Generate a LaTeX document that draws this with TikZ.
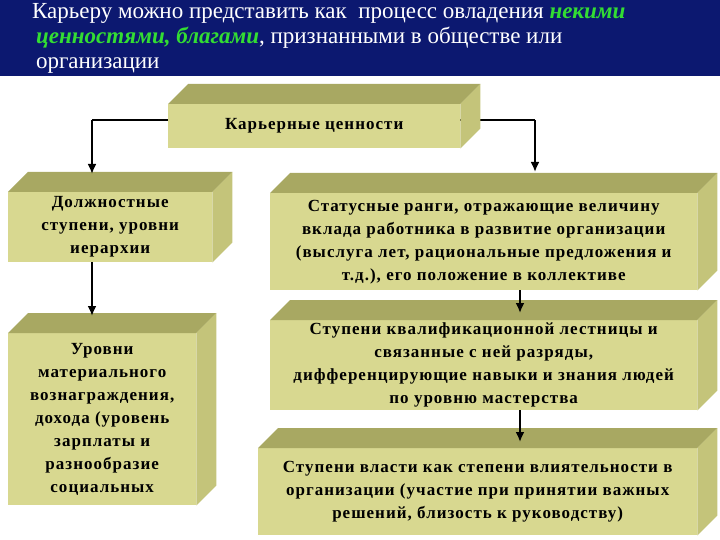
\documentclass[tikz,border=0pt]{standalone}
\usepackage{fontspec}
\setmainfont{Liberation Serif}
\definecolor{navy}{HTML}{0C1870}
\definecolor{kfront}{HTML}{D8D890}
\definecolor{ktop}{HTML}{A8A862}
\definecolor{kside}{HTML}{C4C47A}
\definecolor{kgreen}{HTML}{33DD33}
\tikzset{
  front/.style={fill=kfront, anchor=north west, inner sep=2pt, align=center, font=\bfseries\fontsize{17}{23}\selectfont\addfontfeature{LetterSpace=6}, text=black},
  conn/.style={line width=2.4pt, -{Latex[length=10pt,width=9pt]}},
  line/.style={line width=2.4pt}
}
\usetikzlibrary{arrows.meta}
\newcommand\kbox[7]{% name, x, y, w, h, depth, text
  \node[front, minimum width=#4pt, minimum height=#5pt] (#1) at (#2,#3) {#7};
  \fill[ktop] (#1.north west) -- ++(#6,-#6) -- ([xshift=#6pt,yshift=#6pt]#1.north east) -- (#1.north east) -- cycle;
  \fill[kside] (#1.north east) -- ++(#6,-#6) -- ([xshift=#6pt,yshift=#6pt]#1.south east) -- (#1.south east) -- cycle;
}
\begin{document}
\begin{tikzpicture}[x=1pt,y=-1pt]
\useasboundingbox (0,0) rectangle (720,540);
\fill[white] (0,0) rectangle (720,540);
\fill[navy] (0,0) rectangle (720,76);
\node[anchor=north west, text=white, align=left, font=\fontsize{23}{25}\selectfont, inner sep=0pt] (hdr) at (32,3)
 {Карьеру можно представить как\ \ процесс овладения {\color{kgreen}\bfseries\itshape некими}\\
  \,{\color{kgreen}\bfseries\itshape ценностями, благами}, признанными в обществе или\\
  \,организации};
% connectors behind
\coordinate (hl) at (92,120);
\coordinate (hr) at (535,120);
\draw[line] (hl) -- (hr);
\kbox{top}{168}{104}{292}{44}{20}{Карьерные ценности}
\kbox{l1}{8}{192}{204}{70}{20}{Должностные\\ступени, уровни\\иерархии}
\kbox{r1}{270}{193}{427}{97}{20}{Статусные ранги, отражающие величину\\вклада работника в развитие организации\\(выслуга лет, рациональные предложения и\\т.д.), его положение в коллективе}
\kbox{l2}{8}{333}{188}{172}{20}{Уровни\\материального\\вознаграждения,\\дохода (уровень\\зарплаты и\\разнообразие\\социальных}
\kbox{r2}{270}{320}{427}{90}{20}{Ступени квалификационной лестницы и\\связанные с ней разряды,\\дифференцирующие навыки и знания людей\\по уровню мастерства}
\kbox{r3}{258}{448}{439}{87}{20}{Ступени власти как степени влиятельности в\\организации (участие при принятии важных\\решений, близость к руководству)}
\draw[conn] (hl) -- (92,174);
\draw[conn] (hr) -- (535,172);
\draw[conn] (l1.south -| hl) -- (92,316);
\draw[conn] (r1.south -| 520,0) -- (520,313);
\draw[conn] (r2.south -| 520,0) -- (520,442);
\end{tikzpicture}
\end{document}
